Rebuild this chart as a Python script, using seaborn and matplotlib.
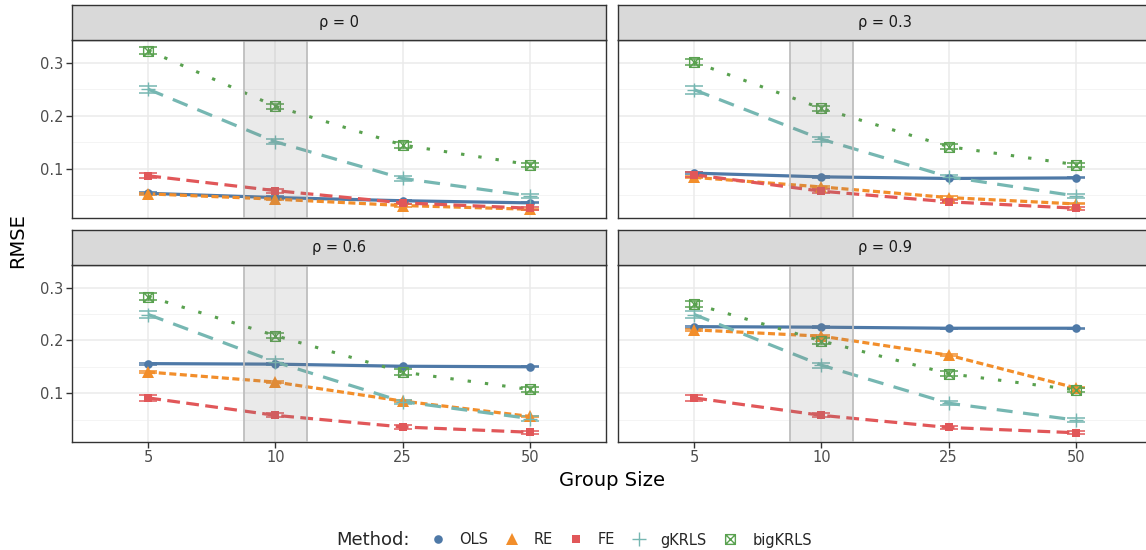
import numpy as np
import pandas as pd
import matplotlib
matplotlib.use("Agg")
import matplotlib.pyplot as plt
import seaborn as sns
from matplotlib.path import Path
from matplotlib.lines import Line2D

# ---- data ----
group_sizes = [5, 10, 25, 50]
rhos = ["0", "0.3", "0.6", "0.9"]
methods = ["OLS", "RE", "FE", "gKRLS", "bigKRLS"]

rmse_rho0 = {
    "OLS": [0.054, 0.046, 0.040, 0.036],
    "RE": [0.053, 0.043, 0.031, 0.024],
    "FE": [0.087, 0.059, 0.036, 0.026],
    "gKRLS": [0.250, 0.151, 0.082, 0.049],
    "bigKRLS": [0.323, 0.218, 0.145, 0.108],
}
rmse_rho3 = {
    "OLS": [0.092, 0.085, 0.082, 0.083],
    "RE": [0.084, 0.066, 0.046, 0.034],
    "FE": [0.089, 0.058, 0.038, 0.026],
    "gKRLS": [0.249, 0.156, 0.085, 0.049],
    "bigKRLS": [0.301, 0.214, 0.142, 0.108],
}
rmse_rho6 = {
    "OLS": [0.156, 0.155, 0.151, 0.150],
    "RE": [0.140, 0.121, 0.085, 0.056],
    "FE": [0.091, 0.058, 0.036, 0.026],
    "gKRLS": [0.249, 0.159, 0.084, 0.052],
    "bigKRLS": [0.283, 0.209, 0.140, 0.107],
}
rmse_rho9 = {
    "OLS": [0.226, 0.225, 0.223, 0.223],
    "RE": [0.220, 0.208, 0.172, 0.110],
    "FE": [0.091, 0.058, 0.035, 0.025],
    "gKRLS": [0.249, 0.153, 0.081, 0.049],
    "bigKRLS": [0.269, 0.199, 0.137, 0.106],
}
panels = [rmse_rho0, rmse_rho3, rmse_rho6, rmse_rho9]

# half width of the error bars
se = {
    "OLS": [0.002, 0.002, 0.001, 0.001],
    "RE": [0.002, 0.002, 0.002, 0.001],
    "FE": [0.005, 0.004, 0.003, 0.003],
    "gKRLS": [0.007, 0.005, 0.004, 0.004],
    "bigKRLS": [0.006, 0.005, 0.005, 0.004],
}

rows = []
for rho, panel in zip(rhos, panels):
    for m in methods:
        for i, g in enumerate(group_sizes):
            rows.append({"rho": rho, "Method": m, "pos": i, "group": g,
                         "rmse": panel[m][i], "se": se[m][i]})
df = pd.DataFrame(rows)

# ---- styles ----
palette = {"OLS": "#4E79A7", "RE": "#F28E2B", "FE": "#E15759",
           "gKRLS": "#76B7B2", "bigKRLS": "#59A14F"}
dashes = {"OLS": "", "RE": (2.2, 1.1), "FE": (4.0, 2.0),
          "gKRLS": (5.0, 3.3), "bigKRLS": (1.1, 4.6)}
widths = {"OLS": 2.3, "RE": 2.3, "FE": 2.3, "gKRLS": 2.3, "bigKRLS": 2.2}

box_x = Path([(-1, -1), (1, -1), (1, 1), (-1, 1), (-1, -1),
              (-1, -1), (1, 1), (-1, 1), (1, -1)],
             [Path.MOVETO, Path.LINETO, Path.LINETO, Path.LINETO, Path.CLOSEPOLY,
              Path.MOVETO, Path.LINETO, Path.MOVETO, Path.LINETO])
marker_style = {
    "OLS": dict(marker="o", ms=6.2, mew=0),
    "RE": dict(marker="^", ms=8, mew=0),
    "FE": dict(marker="s", ms=6.2, mew=0),
    "gKRLS": dict(marker="+", ms=10, mew=1.0),
    "bigKRLS": dict(marker=box_x, ms=7, mew=1.0, mfc="none"),
}

sns.set_theme(style="white")
plt.rcParams["font.family"] = ["DejaVu Sans"]

fig = plt.figure(figsize=(11.46, 5.5), dpi=100)

W, H = 1146, 550
left_x = [72, 618]
panel_w = 534
panel_tops = [40, 265]
panel_h = [178, 177]
strip_h = 35

border = "#333333"
for k, rho in enumerate(rhos):
    r, c = divmod(k, 2)
    x0 = left_x[c]
    top = panel_tops[r]
    ax = fig.add_axes([x0 / W, 1 - (top + panel_h[r]) / H, panel_w / W, panel_h[r] / H])
    sax = fig.add_axes([x0 / W, 1 - top / H, panel_w / W, strip_h / H])

    sub = df[df["rho"] == rho]

    # grid
    for yv in [0.05, 0.15, 0.25]:
        ax.axhline(yv, color="#F2F2F2", lw=0.6, zorder=0)
    for yv in [0.1, 0.2, 0.3]:
        ax.axhline(yv, color="#EBEBEB", lw=1.1, zorder=0)
    for xv in range(len(group_sizes)):
        ax.axvline(xv, color="#EBEBEB", lw=1.1, zorder=0)

    for m in methods:
        d = sub[sub["Method"] == m]
        ax.errorbar(d["pos"], d["rmse"], yerr=d["se"], fmt="none",
                    ecolor=palette[m], elinewidth=1.0, capsize=6.5, capthick=1.1, zorder=2)

    sns.lineplot(data=sub, x="pos", y="rmse", hue="Method", style="Method",
                 hue_order=methods, style_order=methods, palette=palette,
                 dashes=dashes, size="Method", sizes=widths, size_order=methods,
                 legend=False, ax=ax, zorder=3)

    for m in methods:
        d = sub[sub["Method"] == m]
        st = dict(marker_style[m])
        mfc = st.pop("mfc", palette[m])
        ax.plot(d["pos"], d["rmse"], ls="none", color=palette[m], mfc=mfc,
                mec=palette[m], zorder=4, **st)

    # highlighted group size
    ax.axvspan(0.75, 1.25, color="#808080", alpha=0.16, lw=0, zorder=5)
    ax.axvline(0.75, color="#BEBEBE", lw=1.3, zorder=5)
    ax.axvline(1.25, color="#BEBEBE", lw=1.3, zorder=5)

    ax.set_xlim(-0.6, 3.6)
    ax.set_ylim(0.0075, 0.3428)
    ax.set_xticks(range(len(group_sizes)))
    ax.set_yticks([0.1, 0.2, 0.3])
    ax.set_xlabel("")
    ax.set_ylabel("")
    ax.tick_params(axis="both", length=4, width=1, color=border,
                   labelsize=10.5, labelcolor="#4D4D4D", pad=2, direction="out",
                   left=(c == 0), bottom=(r == 1))
    ax.set_xticklabels([str(g) for g in group_sizes] if r == 1 else [])
    ax.set_yticklabels(["0.1", "0.2", "0.3"] if c == 0 else [])
    for sp in ax.spines.values():
        sp.set_color(border)
        sp.set_linewidth(1.0)
        sp.set_visible(True)

    sax.set_facecolor("#D9D9D9")
    sax.set_xticks([])
    sax.set_yticks([])
    for sp in sax.spines.values():
        sp.set_color(border)
        sp.set_linewidth(1.0)
        sp.set_visible(True)
    sax.text(0.5, 0.5, "ρ = " + rho, ha="center", va="center",
             fontsize=10.5, color="#1A1A1A", transform=sax.transAxes)

fig.text(18 / W, 1 - 241 / H, "RMSE", rotation=90, ha="center", va="center",
         fontsize=14, color="black")
fig.text(612 / W, 1 - 481 / H, "Group Size", ha="center", va="center",
         fontsize=14, color="black")

# legend
handles = []
for m in methods:
    st = dict(marker_style[m])
    mfc = st.pop("mfc", palette[m])
    handles.append(Line2D([], [], ls="none", color=palette[m], mfc=mfc,
                          mec=palette[m], **st))
fig.text(336 / W, 1 - 540 / H, "Method:", ha="left", va="center", fontsize=13)
fig.legend(handles, methods, loc="center", bbox_to_anchor=(621 / W, 1 - 540 / H),
           ncol=5, frameon=False, fontsize=10.5, handlelength=1.0,
           handletextpad=1.0, columnspacing=1.1, borderpad=0)

fig.savefig("out.png", dpi=100)
